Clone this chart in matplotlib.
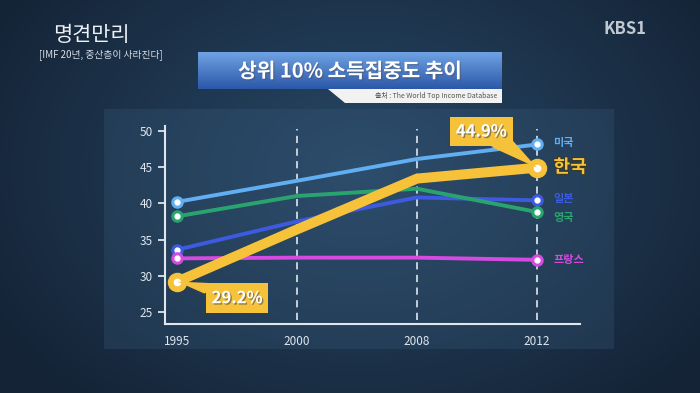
import numpy as np
import matplotlib
matplotlib.use("Agg")
import matplotlib.pyplot as plt
import matplotlib.patheffects as pe
from matplotlib.patches import Rectangle, Polygon
from matplotlib.transforms import IdentityTransform

plt.rcParams["font.family"] = ["Noto Sans CJK KR", "DejaVu Sans"]

# ---------------------------------------------------------------------------
# Data (top 10% income share, %)
# ---------------------------------------------------------------------------
years = ["1995", "2000", "2008", "2012"]
us = [40.2, 43.1, 46.1, 48.1]
korea = [29.2, 36.4, 43.4, 44.9]
japan = [33.6, 37.5, 40.8, 40.4]
uk = [38.2, 41.0, 42.0, 38.8]
france = [32.4, 32.5, 32.5, 32.2]

names = ["미국", "한국", "일본", "영국", "프랑스"]
colors = ["#62aef2", "#f5c23a", "#3d5ae0", "#2aa46e", "#d54ae0"]
y_ticks = [25, 30, 35, 40, 45, 50]

W, H = 700, 393


def fx(x):
    return x / W


def fy(y):
    return 1 - y / H


fig = plt.figure(figsize=(7, 3.93), dpi=100)

# background vignette
bg = fig.add_axes([0, 0, 1, 1])
yy, xx = np.mgrid[0:H, 0:W]
r = np.sqrt(((xx - 360) / 430) ** 2 + ((yy - 170) / 310) ** 2)
r = np.clip(r, 0, 1)
c0 = np.array([0x28, 0x48, 0x66]) / 255
c1 = np.array([0x14, 0x23, 0x36]) / 255
img = c0[None, None, :] * (1 - r[..., None]) + c1[None, None, :] * r[..., None]
bg.imshow(img, extent=[0, W, H, 0], aspect="auto")
bg.set_xlim(0, W)
bg.set_ylim(H, 0)
bg.axis("off")

# chart panel
bg.add_patch(Rectangle((104, 109), 510, 240, facecolor="#3a5d7e", alpha=0.28,
                       edgecolor="none"))

# title box with gradient
tax = fig.add_axes([fx(198), fy(89), fx(304), (89 - 52) / H])
grad = np.linspace(0, 1, 50)[:, None, None]
top = np.array([0x6f, 0xa2, 0xe4]) / 255
bot = np.array([0x2c, 0x58, 0xa8]) / 255
tax.imshow(top * (1 - grad) + bot * grad, extent=[0, 1, 0, 1], aspect="auto")
tax.axis("off")
fig.text(fx(350), fy(71), "상위 10% 소득집중도 추이", color="white", fontsize=14.5,
         fontweight="bold", ha="center", va="center",
         path_effects=[pe.withSimplePatchShadow(offset=(1, -1), alpha=0.4)])

# source tab
bg.add_patch(Polygon([(328, 89), (502, 89), (502, 103), (345, 103)],
                     closed=True, facecolor="#f2f2f2", edgecolor="none"))
bg.text(497, 96.5, "출처 : The World Top Income Database", color="#555555",
        fontsize=5, ha="right", va="center")

# program logo / subtitle
bg.text(91, 35, "명견만리", color="#eef2f6", fontsize=15, ha="center",
        va="center", fontstyle="italic")
bg.text(101, 55, "[IMF 20년, 중산층이 사라진다]", color="#d8dee6", fontsize=7,
        ha="center", va="center")
bg.text(625, 29, "KBS1", color="#c0c8d2", fontsize=12, fontweight="bold",
        ha="center", va="center")

# ---------------------------------------------------------------------------
# Main chart
# ---------------------------------------------------------------------------
ax = fig.add_axes([fx(165), fy(324), fx(580 - 165), (324 - 126) / H])
ax.patch.set_alpha(0)
x = np.arange(len(years))
ax.set_xlim(-0.103, 3.36)
ax.set_ylim(23.35, 50.65)

for xi in x[1:]:
    ax.vlines(xi, 23.9, 50.3, colors="#d0dae4", linewidth=1.3,
              linestyles=(0, (4, 3)), zorder=1)

series = [us, korea, japan, uk, france]
order = [0, 3, 2, 4, 1]
for i in order:
    vals = series[i]
    c = colors[i]
    if i == 1:
        ax.plot(x, vals, color=c, linewidth=7.2, solid_capstyle="round",
                zorder=10)
        ax.plot(x[[0, 3]], np.array(vals)[[0, 3]], "o", ms=13, color=c,
                zorder=11)
        ax.plot(x[[0, 3]], np.array(vals)[[0, 3]], "o", ms=4.5, color="white",
                zorder=12)
    else:
        ax.plot(x, vals, color=c, linewidth=2.8, zorder=3 + i)
        ax.plot(x[[0, 3]], np.array(vals)[[0, 3]], "o", ms=8, color=c,
                zorder=3 + i)
        ax.plot(x[[0, 3]], np.array(vals)[[0, 3]], "o", ms=3.5, color="white",
                zorder=3 + i)

# right labels
label_y = [48.4, 45.0, 40.6, 38.0, 32.3]
for i, name in enumerate(names):
    if i == 1:
        ax.annotate(name, (3, label_y[i]), xytext=(12, 0),
                    textcoords="offset points", color=colors[i], fontsize=13,
                    fontweight="bold", va="center",
                    path_effects=[pe.withStroke(linewidth=1.5,
                                                foreground="#3a3a2a")])
    else:
        ax.annotate(name, (3, label_y[i]), xytext=(12, 0),
                    textcoords="offset points", color=colors[i], fontsize=8,
                    fontweight="bold", va="center")

# callouts: box offset (points) and pointer base offsets (pixels from point)
shadow = [pe.withSimplePatchShadow(offset=(1, -1), alpha=0.6)]
callouts = [
    (3, korea[3], (-40, 26), [(-46, 21), (-24, 27)]),
    (0, korea[0], (43, -12), [(27, -12), (45, -2)]),
]
for xi, val, off, base in callouts:
    ax.annotate(f"{val:.1f}%", (xi, val), xytext=off,
                textcoords="offset points", ha="center", va="center",
                color="white", fontsize=12, fontweight="bold",
                path_effects=shadow,
                bbox=dict(boxstyle="square,pad=0.35", fc="#f5c23a", ec="none"),
                zorder=9)
    px, py = ax.transData.transform((xi, val))
    verts = [(px, py)] + [(px + dx, py + dy) for dx, dy in base]
    fig.patches.append(Polygon(verts, closed=True, facecolor="#f5c23a",
                               edgecolor="none", transform=IdentityTransform(),
                               figure=fig))

# axes styling
for s in ["top", "right"]:
    ax.spines[s].set_visible(False)
for s in ["left", "bottom"]:
    ax.spines[s].set_color("#dfe6ee")
    ax.spines[s].set_linewidth(1.5)
ax.set_yticks(y_ticks)
ax.set_xticks(x)
ax.set_xticklabels(years)
ax.tick_params(axis="y", colors="#dfe6ee", labelcolor="#dfe6ee", length=5,
               width=1.3, labelsize=8.5, pad=4)
ax.tick_params(axis="x", length=0, labelcolor="#dfe6ee", labelsize=8.5, pad=8)

fig.savefig("out.png", dpi=100)
